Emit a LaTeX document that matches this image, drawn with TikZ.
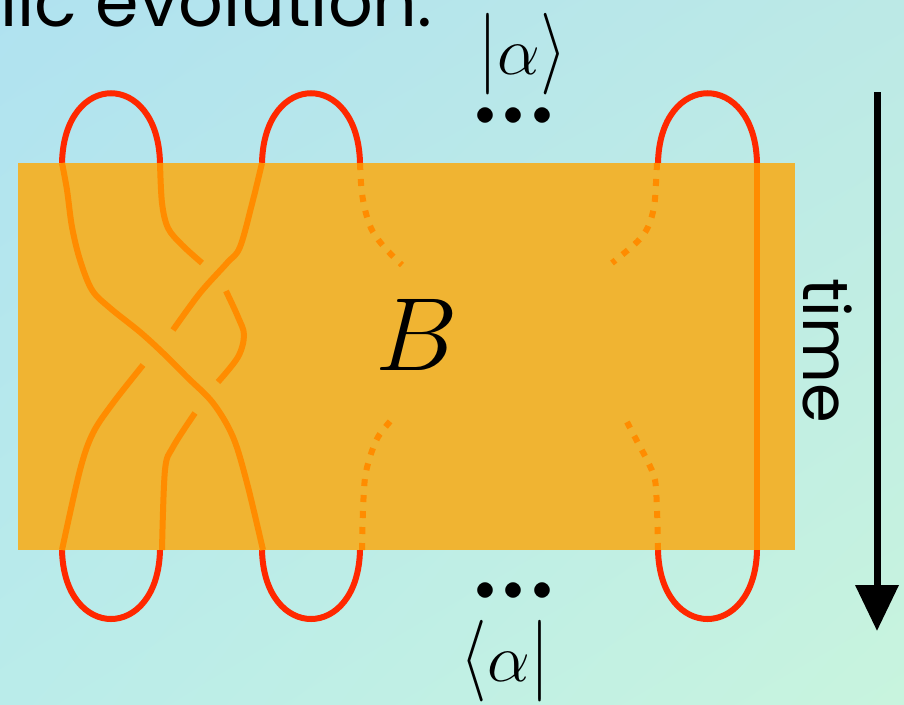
\RequirePackage{fix-cm}
\documentclass[tikz,border=0pt]{standalone}
\usepackage{fontspec}
\newfontfamily\comicfont{Poppins}
\usetikzlibrary{arrows.meta,shadings}
\definecolor{bgUL}{RGB}{176,226,240}
\definecolor{bgUR}{RGB}{188,233,230}
\definecolor{bgLL}{RGB}{186,236,234}
\definecolor{bgLR}{RGB}{200,244,222}
\definecolor{loopred}{RGB}{255,40,0}
\definecolor{strandor}{RGB}{255,140,0}
\definecolor{boxor}{RGB}{240,180,50}
\newcommand{\tallbar}{\scalebox{1}[1.2]{$|$}}
\newcommand{\tallrangle}{\scalebox{1}[1.2]{$\rangle$}}
\newcommand{\talllangle}{\scalebox{1}[1.2]{$\langle$}}
\newcommand{\threedots}{$\mathord{\bullet}\hspace{8.5pt}\mathord{\bullet}\hspace{8.5pt}\mathord{\bullet}$}
\begin{document}
\begin{tikzpicture}[x=1pt,y=-1pt,
  redloop/.style={draw=loopred,line width=6pt},
  strand/.style={draw=strandor,line width=6pt},
  ghost/.style={strand,dash pattern=on 7pt off 9pt},
  handtext/.style={inner sep=0pt,font=\comicfont\fontsize{70}{80}\selectfont},
  mathtext/.style={inner sep=0pt,font=\fontsize{68}{68}\selectfont},
  dotstext/.style={inner sep=0pt,font=\fontsize{40}{40}\selectfont},
  timearrow/.style={line width=7pt,-{Triangle[width=42pt,length=46pt]}}]
\useasboundingbox (0,0) rectangle (904,704);
\begin{scope}
\clip (0,0) rectangle (904,704);
\shade[upper left=bgUL,upper right=bgUR,lower left=bgLL,lower right=bgLR] (0,0) rectangle (904,704);
% red loops
\foreach \a/\b in {62/160,262/360,658/757}{
  \draw[redloop] (\a,163) .. controls (\a+2,70) and (\b-2,70) .. (\b,163);
  \draw[redloop] (\a,550) .. controls (\a+2,642) and (\b-2,642) .. (\b,550);
}
% box
\fill[boxor] (18,163) rectangle (795,550);
% strand A (over)
\draw[strand] plot[smooth,tension=0.55] coordinates {(62,163) (67,190) (72,227) (80,260) (92,290) (110,308) (140,332) (163,353) (187,377) (213,403) (233,437) (247,483) (263,550)};
% strand B
\draw[strand] plot[smooth,tension=0.55] coordinates {(262,163) (253,200) (240,247) (227,263) (200,293) (173,330)};
\draw[strand] plot[smooth,tension=0.55] coordinates {(143,365) (113,403) (93,433) (80,470) (62,550)};
% strand C
\draw[strand] plot[smooth,tension=0.55] coordinates {(160,163) (162,203) (168,228) (182,245) (202,263)};
\draw[strand] plot[smooth,tension=0.55] coordinates {(226,291) (238,317) (244,335) (238,357) (218,382)};
\draw[strand] plot[smooth,tension=0.55] coordinates {(195,413) (173,447) (165,470) (162,550)};
% dotted strands
\draw[ghost] plot[smooth,tension=0.55] coordinates {(360,163) (361,183) (363,200) (367,217) (373,232) (385,248) (402,265)};
\draw[ghost] plot[smooth,tension=0.55] coordinates {(657,163) (656,183) (654,207) (648,227) (637,242) (612,263)};
\draw[ghost] plot[smooth,tension=0.55] coordinates {(362,550) (363,510) (365,478) (370,457) (378,437) (393,418)};
\draw[ghost] plot[smooth,tension=0.55] coordinates {(658,550) (657,510) (655,480) (648,462) (638,443) (627,422)};
% right strand
\draw[strand] (757,163) -- (757,550);
% texts
\node[handtext,anchor=base west] (title) at (0,27) {lic evolution:};
\node[handtext,anchor=base,rotate=-90,font=\comicfont\fontsize{64}{70}\selectfont] (timelabel) at (803,351) {time};
\node[inner sep=0pt,anchor=base,font=\fontsize{104}{104}\selectfont] (B) at (417,370) {$B$};
\node[mathtext,anchor=base] (ket) at (523,74) {\tallbar$\alpha$\tallrangle};
\node[mathtext,anchor=base] (bra) at (505,681) {\talllangle$\alpha$\tallbar};
\node[dotstext] (dotsTop) at (514,117) {\threedots};
\node[dotstext] (dotsBot) at (514,592) {\threedots};
% time arrow
\coordinate (tTop) at (877,92);
\coordinate (tTip) at (877,631);
\draw[timearrow] (tTop) -- (tTip);
\end{scope}
\end{tikzpicture}
\end{document}
